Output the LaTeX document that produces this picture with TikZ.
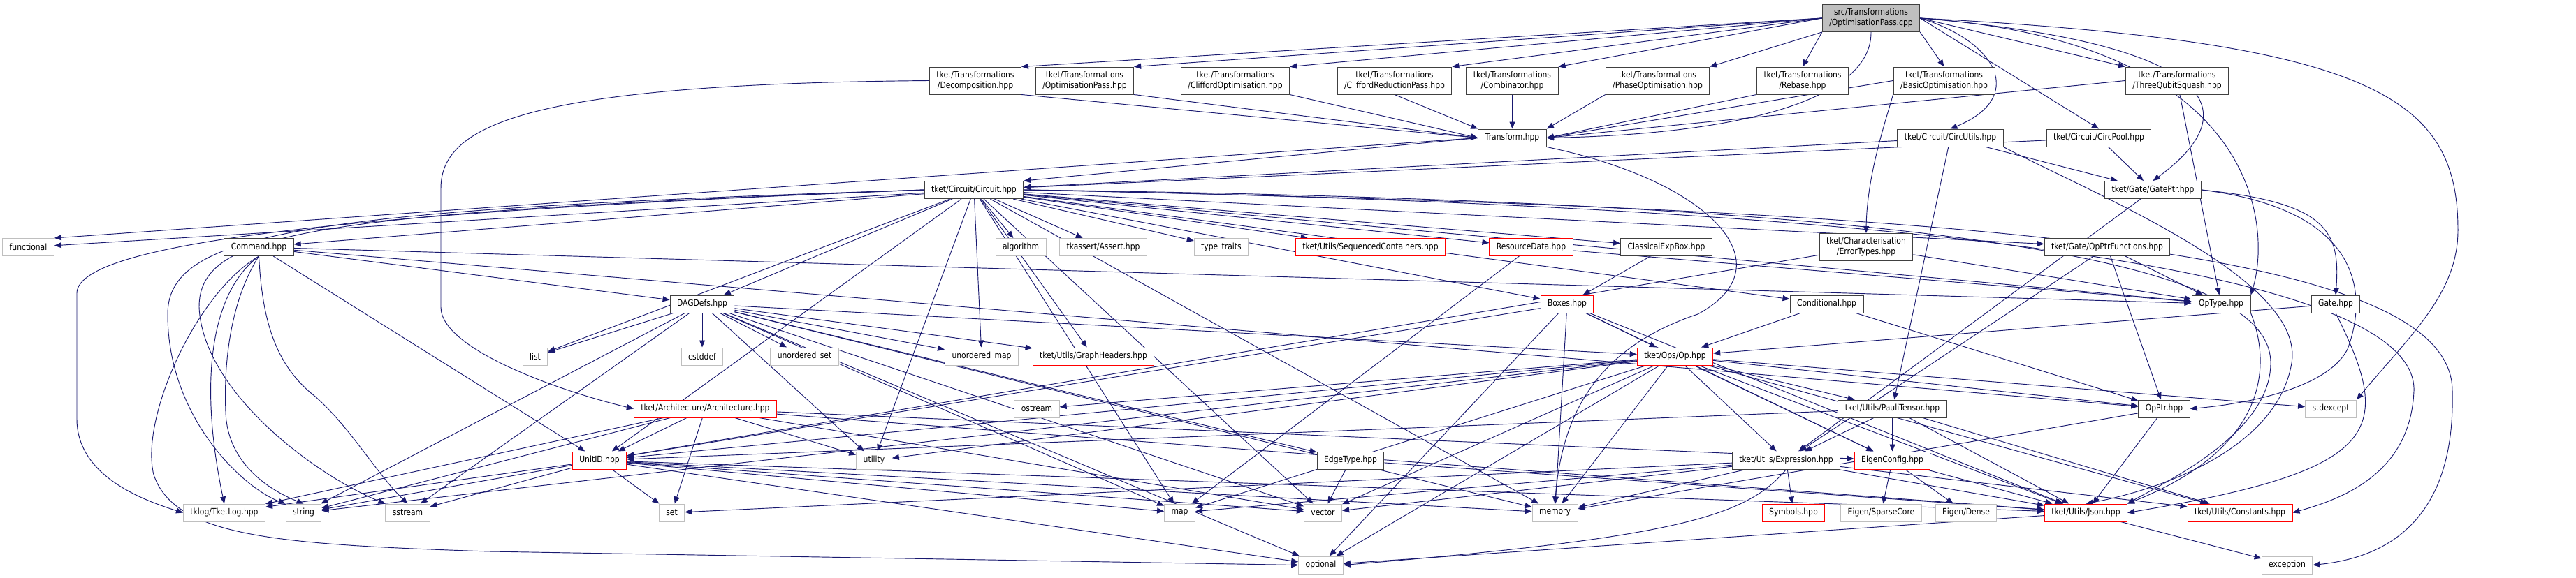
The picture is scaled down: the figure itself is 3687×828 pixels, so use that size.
\documentclass[tikz,border=0pt]{standalone}
\usepackage{fontspec}
\usetikzlibrary{arrows.meta,backgrounds}
\newfontfamily\dxfont{DejaVu Sans}[FakeStretch=0.86]
\definecolor{edgeblue}{HTML}{191970}
\definecolor{extgray}{HTML}{BFBFBF}
\definecolor{docborder}{HTML}{404040}
\tikzset{
 nb/.style={draw=docborder, line width=0.75pt, fill=white, inner xsep=7.5pt, inner ysep=0pt, minimum height=18.75pt, font=\dxfont\fontsize{9.4}{11.25}\selectfont, align=center},
 nb2/.style={nb, minimum height=29.25pt},
 ext/.style={nb, draw=extgray},
 trunc/.style={nb, draw=red},
 rootbox/.style={nb2, fill=extgray},
 e/.style={draw=edgeblue, line width=0.7pt, -{Triangle[length=7.5pt,width=6pt]}},
}
\begin{document}
\begin{tikzpicture}[x=0.75pt,y=-0.75pt]
\useasboundingbox (0,0) rectangle (3687,828);
% row 0
\node[rootbox] (root) at (2678,26) {src/Transformations\\/OptimisationPass.cpp};
% row 1
\node[nb2] (Decomp) at (1396,115.5) {tket/Transformations\\/Decomposition.hpp};
\node[nb2] (OptPass) at (1552.5,115.5) {tket/Transformations\\/OptimisationPass.hpp};
\node[nb2] (CliffOpt) at (1768,115.5) {tket/Transformations\\/CliffordOptimisation.hpp};
\node[nb2] (CliffRed) at (1996,115.5) {tket/Transformations\\/CliffordReductionPass.hpp};
\node[nb2] (Comb) at (2164.5,115.5) {tket/Transformations\\/Combinator.hpp};
\node[nb2] (PhaseOpt) at (2372.5,115.5) {tket/Transformations\\/PhaseOptimisation.hpp};
\node[nb2] (Rebase) at (2580,115.5) {tket/Transformations\\/Rebase.hpp};
\node[nb2] (BasicOpt) at (2782.5,115.5) {tket/Transformations\\/BasicOptimisation.hpp};
\node[nb2] (ThreeQ) at (3116,115.5) {tket/Transformations\\/ThreeQubitSquash.hpp};
% row 2
\node[nb] (Transform) at (2164.5,197.5) {Transform.hpp};
\node[nb] (CircUtils) at (2791.5,197.5) {tket/Circuit/CircUtils.hpp};
\node[nb] (CircPool) at (3004,197.5) {tket/Circuit/CircPool.hpp};
% row 3
\node[nb] (Circuit) at (1394,272) {tket/Circuit/Circuit.hpp};
\node[nb] (GatePtr) at (3081.5,272) {tket/Gate/GatePtr.hpp};
% row 4
\node[ext] (functional) at (40.5,354) {functional};
\node[nb] (Command) at (370.5,354) {Command.hpp};
\node[ext] (algorithm) at (1461,354) {algorithm};
\node[ext] (Assert) at (1579,354) {tkassert/Assert.hpp};
\node[ext] (typetraits) at (1748,354) {type\_traits};
\node[trunc] (SeqCont) at (1961.5,354) {tket/Utils/SequencedContainers.hpp};
\node[trunc] (ResourceData) at (2191.5,354) {ResourceData.hpp};
\node[nb] (ClassicalExpBox) at (2385,354) {ClassicalExpBox.hpp};
\node[nb2] (ErrorTypes) at (2671,354) {tket/Characterisation\\/ErrorTypes.hpp};
\node[nb] (OpPtrFunctions) at (3016,354) {tket/Gate/OpPtrFunctions.hpp};
% row 5
\node[nb] (DAGDefs) at (1005,435.5) {DAGDefs.hpp};
\node[trunc] (Boxes) at (2243,435.5) {Boxes.hpp};
\node[nb] (Conditional) at (2614.5,435.5) {Conditional.hpp};
\node[nb] (OpType) at (3179,435.5) {OpType.hpp};
\node[nb] (Gate) at (3343,435.5) {Gate.hpp};
% row 6
\node[ext] (list) at (766,510.5) {list};
\node[ext] (cstddef) at (1005,510.5) {cstddef};
\node[ext] (unorderedset) at (1151.5,510.5) {unordered\_set};
\node[ext] (unorderedmap) at (1405,510.5) {unordered\_map};
\node[trunc] (GraphHeaders) at (1565,510.5) {tket/Utils/GraphHeaders.hpp};
\node[trunc] (Op) at (2397.5,510.5) {tket/Ops/Op.hpp};
% row 7
\node[trunc] (Architecture) at (1009.5,585.5) {tket/Architecture/Architecture.hpp};
\node[ext] (ostream) at (1484,585.5) {ostream};
\node[nb] (PauliTensor) at (2708.5,585.5) {tket/Utils/PauliTensor.hpp};
\node[nb] (OpPtr) at (3097.5,585.5) {OpPtr.hpp};
\node[ext] (stdexcept) at (3336,585.5) {stdexcept};
% row 8
\node[trunc] (UnitID) at (858,659.5) {UnitID.hpp};
\node[ext] (utility) at (1251,659.5) {utility};
\node[nb] (EdgeType) at (1933,659.5) {EdgeType.hpp};
\node[nb] (Expression) at (2556.5,659.5) {tket/Utils/Expression.hpp};
\node[trunc] (EigenConfig) at (2708.5,659.5) {EigenConfig.hpp};
% row 9
\node[ext] (TketLog) at (321,734.5) {tklog/TketLog.hpp};
\node[ext] (string) at (434.5,734.5) {string};
\node[ext] (sstream) at (583.5,734.5) {sstream};
\node[ext] (set) at (961.5,734.5) {set};
\node[ext] (map) at (1688.5,734.5) {map};
\node[ext] (vector) at (1893.5,734.5) {vector};
\node[ext] (memory) at (2225.5,734.5) {memory};
\node[trunc] (Symbols) at (2567,734.5) {Symbols.hpp};
\node[ext] (SparseCore) at (2692.5,734.5) {Eigen/SparseCore};
\node[ext] (Dense) at (2814,734.5) {Eigen/Dense};
\node[trunc] (Json) at (2985.5,734.5) {tket/Utils/Json.hpp};
\node[trunc] (Constants) at (3206,734.5) {tket/Utils/Constants.hpp};
% row 10
\node[ext] (optional) at (1890.5,809.5) {optional};
\node[ext] (exception) at (3273.5,809.5) {exception};

\begin{pgfonlayer}{background}
\fill[white] (0,0) rectangle (3687,828);
% root to row 1
\foreach \b in {Decomp, OptPass, CliffOpt, CliffRed, Comb}
 {\draw[e] (root.west) -- (\b.north east);}
\draw[e] (root.south west) -- (PhaseOpt.north east);
\draw[e] (root.south west) -- (Rebase.north);
\draw[e] (root.south east) -- (BasicOpt.north);
\draw[e] (root.east) -- (ThreeQ.north west);
\draw[e] (root.east) -- (CircPool.north);
% row 1 to Transform
\foreach \a in {Decomp, OptPass, CliffOpt}
 {\draw[e] (\a.south east) -- (Transform.west);}
\draw[e] (CliffRed.south) -- (Transform.north west);
\draw[e] (Comb) -- (Transform);
\draw[e] (PhaseOpt.south west) -- (Transform.north east);
\draw[e] (Rebase.south west) -- (Transform.east);
\draw[e] (BasicOpt.west) -- (Transform.east);
\draw[e] (ThreeQ.west) -- (Transform.east);
\draw[e] (ThreeQ) -- (OpType);
\draw[e] (Transform.west) -- (Circuit.north east);
\draw[e] (Transform.west) -- (functional.north east);
\foreach \a/\b in {
 CircUtils/Circuit, CircUtils/GatePtr, CircUtils/PauliTensor, CircPool/Circuit, CircPool/GatePtr,
 Circuit/functional, Circuit/Command, Circuit/algorithm, Circuit/Assert, Circuit/typetraits, Circuit/SeqCont, Circuit/ResourceData, Circuit/ClassicalExpBox, Circuit/Conditional, Circuit/OpPtrFunctions, Circuit/list, Circuit/GraphHeaders, Circuit/unorderedmap, Circuit/utility, Circuit/map, Circuit/vector, Circuit/memory, Circuit/UnitID, Circuit/OpType, Circuit/DAGDefs, Circuit/Boxes,
 Command/DAGDefs, Command/OpType, Command/OpPtr, Command/UnitID,
 ResourceData/map, ResourceData/OpType, ClassicalExpBox/Boxes, ErrorTypes/OpType, ErrorTypes/UnitID,
 OpPtrFunctions/OpType, OpPtrFunctions/OpPtr, OpPtrFunctions/Expression, GatePtr/Expression,
 DAGDefs/list, DAGDefs/cstddef, DAGDefs/unorderedset, DAGDefs/unorderedmap, DAGDefs/GraphHeaders, DAGDefs/Op, DAGDefs/EdgeType, DAGDefs/sstream, DAGDefs/vector, DAGDefs/map, DAGDefs/memory, DAGDefs/optional, DAGDefs/utility, DAGDefs/string,
 Boxes/Op, Boxes/memory, Boxes/optional, Boxes/UnitID, Boxes/EigenConfig, Boxes/Json,
 Conditional/Op, Conditional/OpPtr, Gate/Op,
 Op/ostream, Op/utility, Op/memory, Op/vector, Op/optional, Op/map, Op/Expression, Op/EigenConfig, Op/PauliTensor, Op/OpPtr, Op/stdexcept, Op/Json, Op/Constants, Op/UnitID, Op/string,
 Architecture/UnitID, Architecture/set, Architecture/utility, Architecture/EigenConfig, Architecture/Json, Architecture/string, Architecture/TketLog, Architecture/vector,
 UnitID/set, UnitID/string, UnitID/sstream, UnitID/TketLog, UnitID/memory, UnitID/vector, UnitID/map, UnitID/optional, UnitID/Json,
 PauliTensor/EigenConfig, PauliTensor/Expression, PauliTensor/Json, PauliTensor/Constants, PauliTensor/UnitID,
 Expression/Symbols, Expression/memory, Expression/set, Expression/map, Expression/vector, Expression/Json, Expression/Constants,
 EigenConfig/SparseCore, EigenConfig/Dense, EigenConfig/Json,
 EdgeType/vector, EdgeType/Json, OpPtr/Json, OpPtr/memory, Json/optional, Json/exception}
 {\draw[e] (\a) -- (\b);}
% curved edges
\draw[e] (root.south) .. controls (2679,140) and (2500,192) .. (Transform.east);
\draw[e] (root.east) .. controls (2860,60) and (2900,140) .. (CircUtils.north);
\draw[e] (root.east) .. controls (3150,60) and (3230,150) .. (GatePtr.north);
\draw[e] (root.east) .. controls (3240,60) and (3250,330) .. (OpType.north east);
\draw[e] (root.east) .. controls (3400,60) and (3518,140) .. (3518,330) .. controls (3518,420) and (3450,480) .. (stdexcept.north east);
\draw[e] (Decomp.west) .. controls (750,120) and (631,180) .. (631,270) -- (631,440) .. controls (631,500) and (800,560) .. (Architecture.west);
\draw[e] (BasicOpt.south west) .. controls (2700,170) and (2672,250) .. (ErrorTypes.north);
\draw[e] (Transform.south east) .. controls (2450,260) and (2560,380) .. (2430,450) .. controls (2280,500) and (2235,600) .. (memory.north);
\draw[e] (GatePtr.east) .. controls (3330,290) and (3350,330) .. (Gate.north);
\draw[e] (GatePtr.east) .. controls (3380,300) and (3390,420) .. (3360,500) .. controls (3330,560) and (3200,580) .. (OpPtr.east);
\draw[e] (Circuit.west) .. controls (600,300) and (110,340) .. (110,420) -- (110,600) .. controls (110,680) and (200,715) .. (TketLog.west);
\draw[e] (Circuit.west) .. controls (450,300) and (240,330) .. (240,450) .. controls (240,600) and (350,700) .. (string.north west);
\draw[e] (Circuit.west) .. controls (450,305) and (285,330) .. (285,440) .. controls (290,560) and (450,680) .. (sstream.north west);
\draw[e] (Circuit.east) .. controls (2800,300) and (3510,350) .. (3510,560) .. controls (3515,760) and (3400,800) .. (exception.east);
\draw[e] (Circuit.east) .. controls (3000,300) and (3460,420) .. (3455,560) .. controls (3450,680) and (3350,715) .. (Constants.east);
\draw[e] (Circuit.east) .. controls (2900,290) and (3250,390) .. (3250,520) .. controls (3250,620) and (3100,690) .. (Json.north east);
\draw[e] (Command.south) .. controls (280,420) and (200,600) .. (220,680) .. controls (250,770) and (400,780) .. (700,790) -- (optional.west);
\draw[e] (Command.south) .. controls (330,430) and (320,520) .. (323,590) .. controls (325,660) and (380,700) .. (string.north);
\draw[e] (Command.south) .. controls (300,420) and (285,550) .. (TketLog.north);
\draw[e] (Command.south) .. controls (375,450) and (390,520) .. (450,567) .. controls (500,610) and (540,680) .. (sstream.north);
\draw[e] (OpType.south east) .. controls (3250,520) and (3250,640) .. (Json.north east);
\draw[e] (Gate.south) .. controls (3427,617) and (3413,673) .. (Json.east);
\draw[e] (Expression.south) .. controls (2500,740) and (2400,770) .. (optional.east);
\draw[e] (CircUtils.south east) .. controls (3000,280) and (3300,400) .. (3280,520) .. controls (3260,640) and (3100,700) .. (Json.north);
\end{pgfonlayer}
\end{tikzpicture}
\end{document}
